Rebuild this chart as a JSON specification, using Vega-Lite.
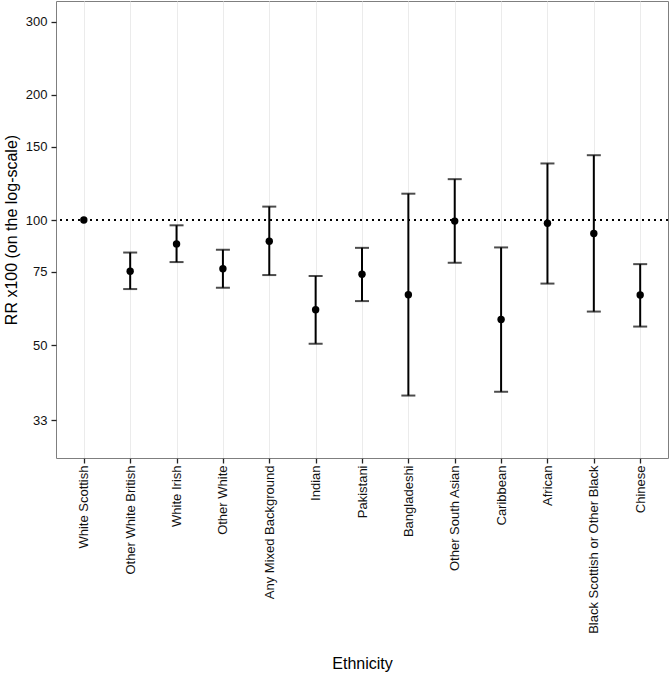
{
  "$schema": "https://vega.github.io/schema/vega-lite/v6.json",
  "autosize": "none",
  "padding": {"left": 56, "top": 1, "right": 2, "bottom": 216},
  "width": 612,
  "height": 457,
  "background": "white",
  "config": {
    "font": "Liberation Sans",
    "view": {"stroke": "#7f7f7f", "strokeWidth": 1},
    "axis": {
      "labelFont": "Liberation Sans",
      "titleFont": "Liberation Sans",
      "labelFontSize": 13,
      "titleFontSize": 16,
      "titleFontWeight": "normal",
      "labelColor": "#111111",
      "titleColor": "#000000",
      "tickColor": "#222222",
      "tickSize": 5,
      "tickWidth": 1.3,
      "domain": false,
      "gridColor": "#ebebeb",
      "gridWidth": 1
    }
  },
  "data": {
    "values": [
      {"eth": "White Scottish", "rr": 100},
      {"eth": "Other White British", "rr": 75.3, "lo": 68.2, "hi": 83.5},
      {"eth": "White Irish", "rr": 87.6, "lo": 79.2, "hi": 97.1},
      {"eth": "Other White", "rr": 76.3, "lo": 68.7, "hi": 84.8},
      {"eth": "Any Mixed Background", "rr": 88.9, "lo": 73.7, "hi": 107.7},
      {"eth": "Indian", "rr": 60.8, "lo": 50.4, "hi": 73.3},
      {"eth": "Pakistani", "rr": 74.0, "lo": 63.8, "hi": 85.7},
      {"eth": "Bangladeshi", "rr": 66.1, "lo": 37.8, "hi": 115.7},
      {"eth": "Other South Asian", "rr": 99.4, "lo": 78.9, "hi": 125.4},
      {"eth": "Caribbean", "rr": 57.6, "lo": 38.6, "hi": 85.9},
      {"eth": "African", "rr": 98.2, "lo": 70.3, "hi": 136.8},
      {"eth": "Black Scottish or Other Black", "rr": 92.8, "lo": 60.2, "hi": 143.2},
      {"eth": "Chinese", "rr": 66.0, "lo": 55.4, "hi": 78.3}
    ]
  },
  "encoding": {
    "x": {
      "field": "eth",
      "type": "nominal",
      "sort": null,
      "scale": {
        "type": "point",
        "padding": 0.6,
        "domain": ["White Scottish", "Other White British", "White Irish", "Other White", "Any Mixed Background", "Indian", "Pakistani", "Bangladeshi", "Other South Asian", "Caribbean", "African", "Black Scottish or Other Black", "Chinese"]
      },
      "axis": {
        "title": "Ethnicity",
        "labelAngle": -90,
        "labelAlign": "right",
        "labelBaseline": "middle",
        "labelPadding": 2,
        "titlePadding": 22,
        "grid": true
      }
    }
  },
  "layer": [
    {
      "mark": {"type": "rule", "color": "black", "strokeWidth": 1.8, "strokeDash": [1.8, 4.2]},
      "encoding": {
        "y": {
          "datum": 100,
          "type": "quantitative",
          "title": "RR x100 (on the log-scale)",
          "scale": {"type": "log", "domain": [26.74, 336.6], "nice": false, "zero": false},
          "axis": {
            "title": "RR x100 (on the log-scale)",
            "values": [33, 40.62, 50, 61.24, 75, 86.6, 100, 122.47, 150, 173.2, 200, 244.95, 300],
            "labelExpr": "indexof([33,50,75,100,150,200,300], datum.value) >= 0 ? format(datum.value, 'd') : ''",
            "labelPadding": 4,
            "titlePadding": 6,
            "gridColor": {"condition": {"test": "indexof([33,50,75,100,150,200,300], datum.value) >= 0", "value": "#ebebeb"}, "value": "#f5f5f5"},
            "tickOpacity": {"condition": {"test": "indexof([33,50,75,100,150,200,300], datum.value) >= 0", "value": 1}, "value": 0}
          }
        },
        "x": null
      }
    },
    {
      "transform": [{"filter": "isValid(datum.lo)"}],
      "mark": {"type": "errorbar", "ticks": true, "size": 14, "thickness": 2, "color": "black"},
      "encoding": {
        "y": {"field": "lo", "type": "quantitative", "title": "RR x100 (on the log-scale)"},
        "y2": {"field": "hi"}
      }
    },
    {
      "mark": {"type": "point", "filled": true, "shape": "circle", "size": 55, "color": "black", "opacity": 1},
      "encoding": {
        "y": {"field": "rr", "type": "quantitative", "title": "RR x100 (on the log-scale)"}
      }
    }
  ]
}
